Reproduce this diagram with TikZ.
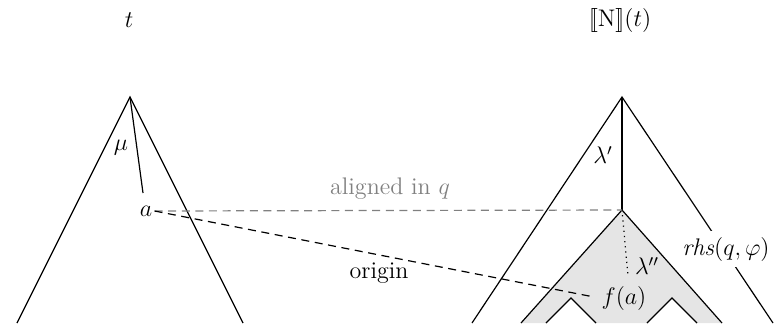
\documentclass[tikz,border=0pt]{standalone}
\tikzset{
  edge/.style={line width=0.6pt, black},
  lbl/.style={inner sep=1pt, font=\fontsize{12}{14}\selectfont},
  dashes/.style={line width=0.6pt, dash pattern=on 4pt off 2.8pt},
}
\begin{document}
\begin{tikzpicture}[x=0.5pt,y=-0.5pt]
\useasboundingbox (0,0) rectangle (778,323);
\clip (0,0) rectangle (778,323);
% titles
\node[lbl] (tl) at (129,20) {$t$};
\node[lbl] (tr) at (620,20) {$[\![ \mathrm{N}]\!](t)$};
% left tree
\coordinate (A) at (130,97);
\coordinate (AL) at (17,323);
\coordinate (AR) at (243,323);
\coordinate (mu) at (143,193);
\draw[edge] (AL) -- (A) -- (AR);
\draw[edge] (A) -- (mu);
\node[lbl] (mulbl) at (121,148) {$\mu$};
\node[lbl] (a) at (146,211) {$a$};
% right tree
\coordinate (B) at (622,97);
\coordinate (BL) at (472,323);
\coordinate (BR) at (773,323);
\coordinate (C) at (622,210);
\fill[gray!20] (C) -- (521,323) -- (546,323) -- (571,298) -- (596,323) -- (647,323) -- (672,298) -- (697,323) -- (722,323) -- cycle;
\draw[edge] (521,323) -- (C) -- (722,323);
\draw[edge] (546,323) -- (571,298) -- (596,323);
\draw[edge] (647,323) -- (672,298) -- (697,323);
\draw[edge] (BL) -- (B) -- (BR);
\draw[edge] (B) -- (C);
\coordinate (D) at (628,276);
\draw[line width=0.6pt, dotted] (C) -- (D);
\node[lbl] (lp) at (603,155) {$\lambda'$};
\node[lbl] (lpp) at (647,266) {$\lambda''$};
\node[lbl, fill=white, inner sep=3pt] (rhs) at (726,249) {\textit{rhs}$(q,\varphi)$};
\node[lbl] (fa) at (624,298) {$f(a)$};
% connectors
\draw[dashes, gray] (a.east) -- (C);
\node[lbl, text=gray, anchor=base] (al) at (390,194) {aligned in $q$};
\draw[dashes, shorten >=4pt] (a.east) -- (fa.west);
\node[lbl, anchor=base] (or) at (379,278) {origin};
\end{tikzpicture}
\end{document}
